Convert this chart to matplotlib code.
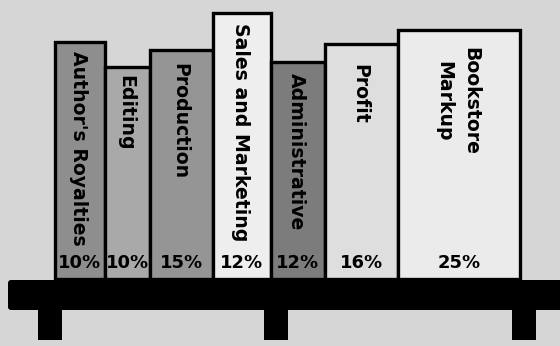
import matplotlib
matplotlib.use("Agg")
import matplotlib.pyplot as plt
from matplotlib.patches import Rectangle, FancyBboxPatch
import numpy as np

# ---- data ----
categories = ["Author's Royalties", "Editing", "Production", "Sales and Marketing",
              "Administrative", "Profit", "Bookstore\nMarkup"]
shares = [10, 10, 15, 12, 12, 16, 25]
pct_labels = [f"{v}%" for v in shares]

# ---- style / geometry (pixel-like units) ----
book_widths = [50, 45, 63, 58, 54, 73, 122]
book_heights = [237, 212, 229, 266, 217, 235, 249]
label_gaps = [9, 8, 13, 10, 11, 20, 17]
book_colors = ["#8e8e8e", "#a9a9a9", "#959595", "#eeeeee", "#7c7c7c", "#dedede", "#ebebeb"]
start_x = 55
bg = "#d6d6d6"

fig = plt.figure(figsize=(5.6, 3.46), dpi=100)
fig.patch.set_facecolor(bg)
ax = fig.add_axes([0, 0, 1, 1])
ax.set_facecolor(bg)
ax.set_xlim(0, 560)
ax.set_ylim(-67, 279)
ax.axis("off")

lefts = start_x + np.concatenate([[0], np.cumsum(book_widths)[:-1]])
ax.bar(lefts, book_heights, width=book_widths, align="edge", bottom=0,
       color=book_colors, edgecolor="black", linewidth=2.4, zorder=2)

for x, w, h, g, lab, pl in zip(lefts, book_widths, book_heights, label_gaps,
                               categories, pct_labels):
    cx = x + w / 2
    ax.text(cx - 2, h - g, lab, rotation=-90, ha="center", va="top",
            fontsize=13.6, fontweight="bold", family="DejaVu Sans",
            linespacing=1.55, zorder=3)
    ax.text(cx, 16, pl, ha="center", va="center", fontsize=13,
            fontweight="bold", family="DejaVu Sans", zorder=3)

# shelf
shelf = FancyBboxPatch((8, -31), 560, 30, boxstyle="round,pad=0,rounding_size=3",
                       facecolor="black", edgecolor="none", zorder=4)
ax.add_patch(shelf)
for lx in [38, 264, 512]:
    ax.add_patch(Rectangle((lx, -61), 24, 32, facecolor="black", edgecolor="none", zorder=4))

fig.savefig("out.png", dpi=100, facecolor=bg)
